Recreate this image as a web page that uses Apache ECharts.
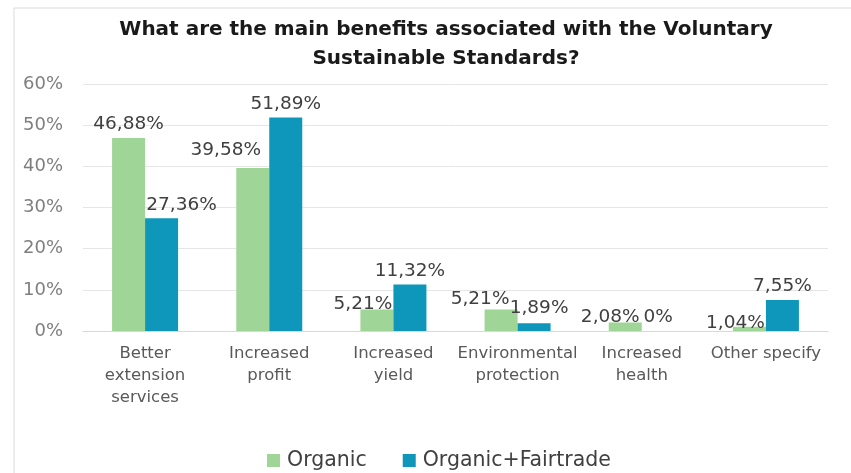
<!DOCTYPE html>
<html><head><meta charset="utf-8">
<script src="https://cdn.jsdelivr.net/npm/echarts@6/dist/echarts.min.js"></script>
<style>html,body{margin:0;padding:0;background:#fff}#c{width:851px;height:473px}</style>
</head><body><div id="c"></div>
<script>
const categories = ['Better\nextension\nservices', 'Increased\nprofit', 'Increased\nyield', 'Environmental\nprotection', 'Increased\nhealth', 'Other specify'];
const organic = [46.88, 39.58, 5.21, 5.21, 2.08, 1.04];
const organicFairtrade = [27.36, 51.89, 11.32, 1.89, 0, 7.55];
const yTicks = [0, 10, 20, 30, 40, 50, 60];
const seriesNames = ['Organic', 'Organic+Fairtrade'];

// label nudges (presentation only)
const organicLabelOffset = [[0,0],[-27,-4],[-14,8],[-21,3],[-15,8],[-14,10]];
const fairLabelOffset = [[20,0],[0,0],[0,0],[5,-2],[0,0],[0,0]];

const fmt = v => v === 0 ? '0%' : v.toFixed(2).replace('.', ',') + '%';
const mk = (vals, offs) => vals.map((v, i) => ({value: v, label: {offset: offs[i]}}));
const F = 'DejaVu Sans';

const chart = echarts.init(document.getElementById('c'));
chart.setOption({
  backgroundColor: '#fff',
  animation: false,
  graphic: [{type: 'rect', shape: {x: 14, y: 8, width: 900, height: 520}, style: {fill: 'none', stroke: '#d9d9d9', lineWidth: 1}, z: -1}],
  title: {
    text: 'What are the main benefits associated with the Voluntary\nSustainable Standards?',
    left: 441, textAlign: 'center', top: 10,
    textStyle: {fontFamily: F, fontWeight: 'bold', fontSize: 20, lineHeight: 29, color: '#1a1a1a'}
  },
  legend: {
    data: seriesNames, top: 445, left: 262, itemWidth: 13, itemHeight: 13, itemGap: 36, icon: 'rect',
    textStyle: {fontFamily: F, fontSize: 20.5, color: '#404040', padding: [0, 0, 0, 2]}
  },
  grid: {left: 83, right: 23, top: 84, bottom: 142},
  xAxis: {
    type: 'category', data: categories,
    axisLine: {lineStyle: {color: '#d9d9d9'}}, axisTick: {show: false},
    axisLabel: {fontFamily: F, fontSize: 16.5, color: '#595959', lineHeight: 22, margin: 12, interval: 0}
  },
  yAxis: {
    type: 'value', min: yTicks[0], max: yTicks[yTicks.length - 1], interval: 10,
    axisLabel: {formatter: '{value}%', fontFamily: F, fontSize: 18, color: '#7f7f7f', margin: 20},
    splitLine: {lineStyle: {color: '#e6e6e6'}}, axisLine: {show: false}, axisTick: {show: false}
  },
  series: [
    {name: seriesNames[0], type: 'bar', data: mk(organic, organicLabelOffset), barWidth: 33, barGap: '0%',
     itemStyle: {color: '#9fd596'},
     label: {show: true, position: 'top', distance: 4, formatter: p => fmt(p.value), fontFamily: F, fontSize: 18.5, color: '#404040'}},
    {name: seriesNames[1], type: 'bar', data: mk(organicFairtrade, fairLabelOffset), barWidth: 33, barGap: '0%',
     itemStyle: {color: '#0e97bb'},
     label: {show: true, position: 'top', distance: 4, formatter: p => fmt(p.value), fontFamily: F, fontSize: 18.5, color: '#404040'}}
  ]
});
</script></body></html>
